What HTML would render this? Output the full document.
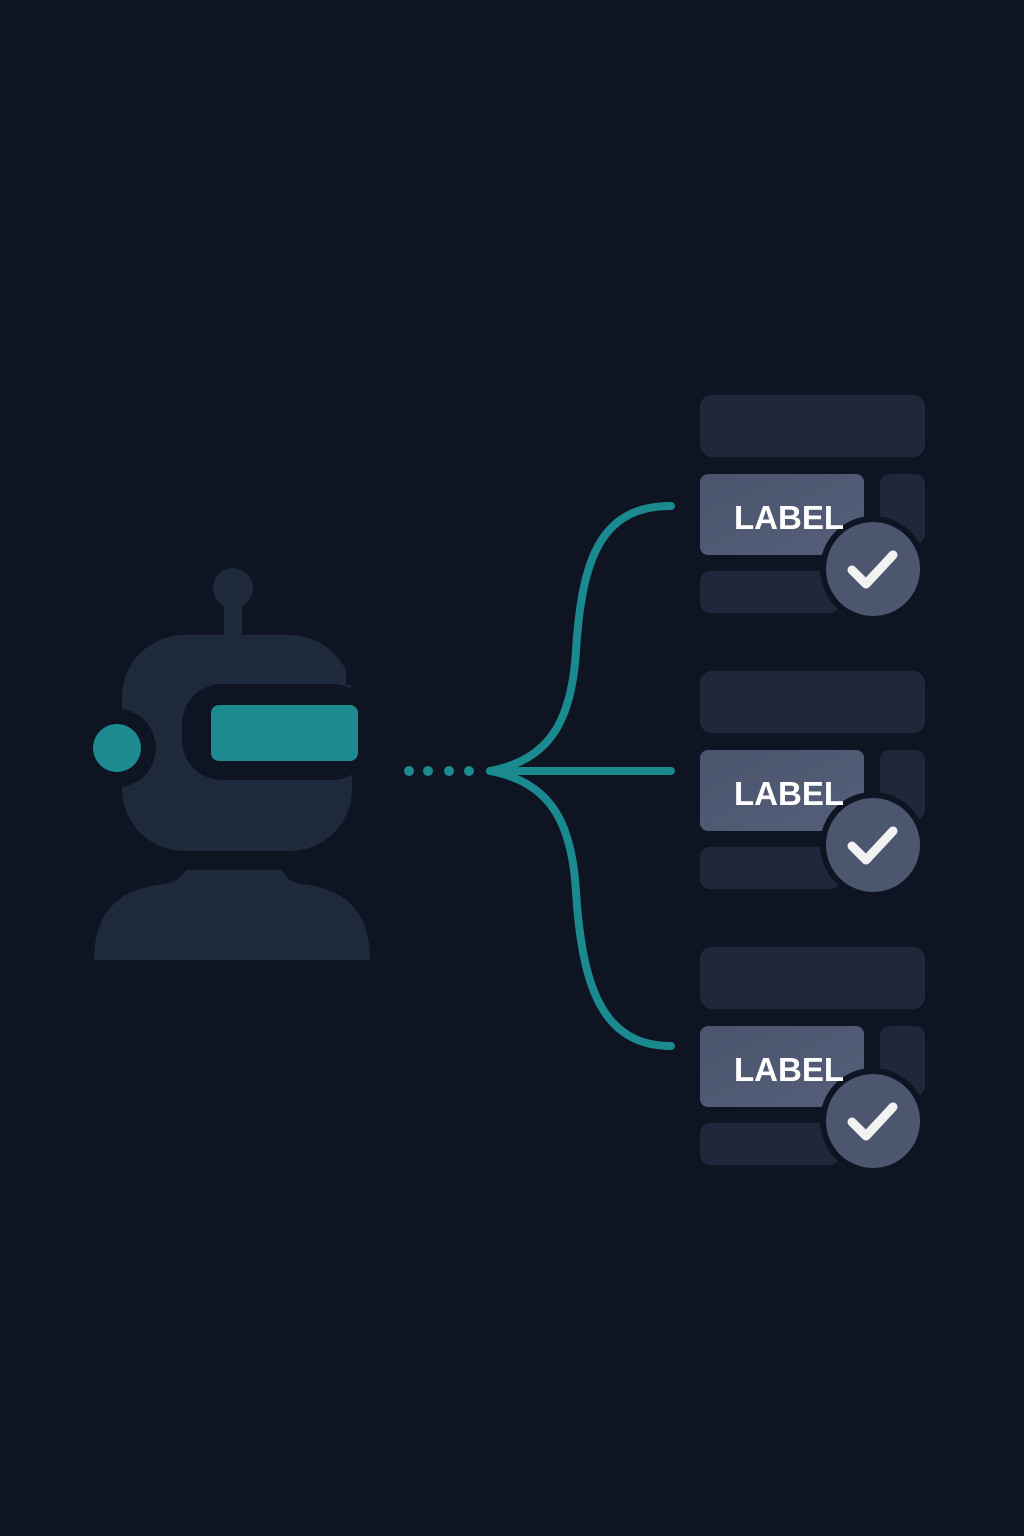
<!DOCTYPE html>
<html><head><meta charset="utf-8"><style>
html,body{margin:0;padding:0;background:#0e1421;}
svg{display:block}
</style></head><body>
<svg width="1024" height="1536" viewBox="0 0 1024 1536" xmlns="http://www.w3.org/2000/svg">
<defs>
<linearGradient id="lg" x1="0" y1="0" x2="1" y2="1">
<stop offset="0" stop-color="#4a546d"/><stop offset="1" stop-color="#555f79"/>
</linearGradient>
<g id="card">
  <rect x="700" y="395" width="225" height="62" rx="12" fill="#1f283a"/>
  <rect x="880" y="474" width="45" height="70" rx="10" fill="#1f283a"/>
  <rect x="700" y="571" width="140" height="42" rx="10" fill="#1f283a"/>
  <rect x="700" y="474" width="164" height="81" rx="8" fill="url(#lg)"/>
  <circle cx="873" cy="569" r="53" fill="#0e1421"/>
  <circle cx="873" cy="569" r="47" fill="#4c566f"/>
  <path d="M852 570 L866 584 L893 555" fill="none" stroke="#f2f2f2" stroke-width="9" stroke-linecap="round" stroke-linejoin="round"/>
  <text x="789" y="529" text-anchor="middle" font-family="'Liberation Sans', sans-serif" font-weight="bold" font-size="33" fill="#ffffff">LABEL</text>
</g>
</defs>
<use href="#card"/>
<use href="#card" transform="translate(0,276)"/>
<use href="#card" transform="translate(0,552)"/>

<!-- robot -->
<circle cx="233" cy="588" r="20" fill="#1f293c"/>
<rect x="224" y="600" width="18" height="42" fill="#1f293c"/>
<rect x="122" y="635" width="230" height="216" rx="62" fill="#1f293c"/>
<rect x="182" y="684" width="190" height="96" rx="40" fill="#0e1421"/>
<rect x="346" y="635" width="20" height="50" fill="#0e1421"/>
<rect x="211" y="705" width="147" height="56" rx="8" fill="#1d8a90"/>
<circle cx="117" cy="748" r="39" fill="#0e1421"/>
<circle cx="117" cy="748" r="24" fill="#1d8a90"/>
<path d="M186 870 L282 870 Q288 882 300 884 Q370 890 370 960 L94 960 Q94 890 165 884 Q178 882 186 870 Z" fill="#1f293c"/>

<!-- dots -->
<g fill="#1d8a90">
<circle cx="409" cy="771" r="5"/><circle cx="428" cy="771" r="5"/>
<circle cx="449" cy="771" r="5"/><circle cx="469" cy="771" r="5"/>
</g>
<g fill="none" stroke="#1b8a8e" stroke-width="8" stroke-linecap="round">
<path d="M490 771 L671 771"/>
<path d="M490 771 C550 760 572 720 576 650 C582 560 600 506 671 506"/>
<path d="M490 771 C550 782 572 822 576 892 C582 982 600 1046 671 1046"/>
</g>
<path d="M485 771 L510 763 L510 779 Z" fill="#1b8a8e"/>
</svg>
</body></html>
